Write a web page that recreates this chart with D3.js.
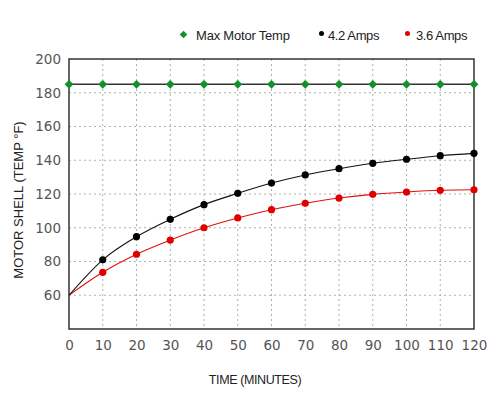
<!DOCTYPE html>
<html><head><meta charset="utf-8">
<script src="https://cdn.jsdelivr.net/npm/d3@7"></script>
<style>
html,body{margin:0;padding:0;background:#fff;}
svg{display:block;}
</style>
</head><body>
<svg id="chart" width="500" height="415"></svg>
<script>
const minutes = [0,10,20,30,40,50,60,70,80,90,100,110,120];
const maxMotorTemp = [185,185,185,185,185,185,185,185,185,185,185,185,185];
const amps42 = [60,81,94.7,105,113.7,120.4,126.5,131.3,135,138.2,140.6,142.7,144.1];
const amps36 = [60,73.6,84.3,92.7,100,105.8,110.7,114.5,117.6,119.8,121.2,122.2,122.5];
const yTicks = [60,80,100,120,140,160,180,200];
const xTicks = [0,10,20,30,40,50,60,70,80,90,100,110,120];
const seriesNames = ["Max Motor Temp","4.2 Amps","3.6 Amps"];

const svg = d3.select("#chart");
const L=69,R=474,T=59,B=329;
const x = d3.scaleLinear().domain([0,120]).range([L,R]);
const y = d3.scaleLinear().domain([40,200]).range([B,T]);

// grid
const g = svg.append("g");
g.selectAll("line.vg").data(xTicks.filter(d=>d>0&&d<120)).enter().append("line")
 .attr("x1",d=>x(d)).attr("x2",d=>x(d)).attr("y1",T).attr("y2",B)
 .attr("stroke","#b0b0b0").attr("stroke-width",1).attr("stroke-dasharray","2,3");
g.selectAll("line.hg").data(yTicks.filter(d=>d<200)).enter().append("line")
 .attr("x1",L).attr("x2",R).attr("y1",d=>y(d)).attr("y2",d=>y(d))
 .attr("stroke","#b0b0b0").attr("stroke-width",1).attr("stroke-dasharray","2,3");

// axes (labels only)
const xAxis = d3.axisBottom(x).tickValues(xTicks).tickSize(0).tickPadding(11);
const yAxis = d3.axisLeft(y).tickValues(yTicks).tickSize(0).tickPadding(8);
const gx = svg.append("g").attr("transform",`translate(0,${B})`).call(xAxis);
const gy = svg.append("g").attr("transform",`translate(${L},0)`).call(yAxis);
[gx,gy].forEach(a=>{
  a.select(".domain").remove();
  a.selectAll("text").attr("font-family","DejaVu Sans").attr("font-size","13.5px").attr("fill","#555");
});
gx.selectAll("text").attr("dy","0.71em");

// frame
svg.append("rect").attr("x",L).attr("y",T).attr("width",R-L).attr("height",B-T)
 .attr("fill","none").attr("stroke","#333").attr("stroke-width",1.5);

// lines
const line = d3.line().x((d,i)=>x(minutes[i])).y(d=>y(d)).curve(d3.curveMonotoneX);
svg.append("path").attr("d",line(amps36)).attr("fill","none").attr("stroke","#e01010").attr("stroke-width",1.1);
svg.append("path").attr("d",line(amps42)).attr("fill","none").attr("stroke","#111").attr("stroke-width",1.1);
svg.append("path").attr("d",d3.line().x((d,i)=>x(minutes[i])).y(d=>y(d))(maxMotorTemp))
 .attr("fill","none").attr("stroke","#333").attr("stroke-width",1.5);

// markers
svg.selectAll("circle.r").data(amps36.slice(1)).enter().append("circle")
 .attr("cx",(d,i)=>x(minutes[i+1])).attr("cy",d=>y(d)).attr("r",3.6).attr("fill","#e00000");
svg.selectAll("circle.b").data(amps42.slice(1)).enter().append("circle")
 .attr("cx",(d,i)=>x(minutes[i+1])).attr("cy",d=>y(d)).attr("r",3.6).attr("fill","#000");
const diamond = d3.symbol().type(d3.symbolDiamond2).size(50);
svg.selectAll("path.dm").data(maxMotorTemp).enter().append("path")
 .attr("d",diamond).attr("transform",(d,i)=>`translate(${x(minutes[i])},${y(d)})`).attr("fill","#12902a");

// legend
const lg = svg.append("g").attr("font-family","Liberation Sans, Arial, sans-serif").attr("font-size","13px").attr("fill","#222");
lg.append("path").attr("d",d3.symbol().type(d3.symbolDiamond2).size(36)).attr("transform","translate(183.5,34.5)").attr("fill","#12902a");
lg.append("text").attr("x",196).attr("y",39.5).text(seriesNames[0]).attr("letter-spacing","-0.2");
lg.append("circle").attr("cx",321.5).attr("cy",33.5).attr("r",2.5).attr("fill","#000");
lg.append("text").attr("x",328).attr("y",39.5).text(seriesNames[1]).attr("letter-spacing","-0.4");
lg.append("circle").attr("cx",407.5).attr("cy",33.5).attr("r",2.5).attr("fill","#e00000");
lg.append("text").attr("x",416).attr("y",39.5).text(seriesNames[2]).attr("letter-spacing","-0.4");

// axis titles
svg.append("text").attr("x",255).attr("y",384).attr("text-anchor","middle")
 .attr("font-family","Liberation Sans, Arial, sans-serif").attr("font-size","12.5px").attr("fill","#222")
 .attr("letter-spacing","-0.4").text("TIME (MINUTES)");
svg.append("text").attr("transform","translate(23,200) rotate(-90)").attr("text-anchor","middle")
 .attr("font-family","Liberation Sans, Arial, sans-serif").attr("font-size","13px").attr("fill","#222")
 .text("MOTOR SHELL (TEMP °F)");
</script>
</body></html>
